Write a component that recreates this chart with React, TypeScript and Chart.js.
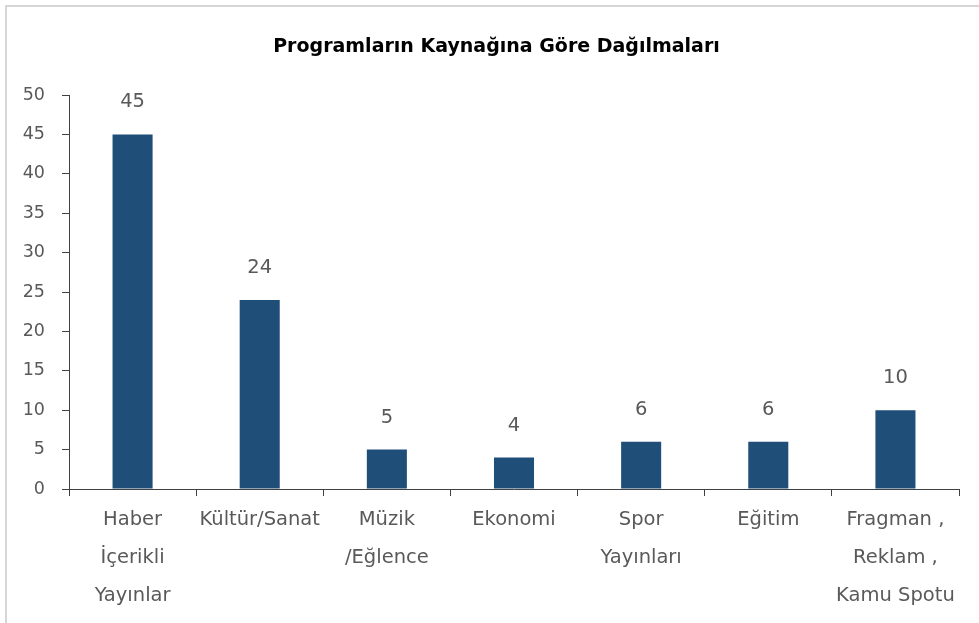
import React, { useEffect, useRef } from "react";
import { Chart, registerables } from "chart.js";

Chart.register(...registerables);

const chartTitle = "Programların Kaynağına Göre Dağılmaları";
const categories: string[][] = [
  ["Haber", "İçerikli", "Yayınlar"],
  ["Kültür/Sanat"],
  ["Müzik", "/Eğlence"],
  ["Ekonomi"],
  ["Spor", "Yayınları"],
  ["Eğitim"],
  ["Fragman ,", "Reklam ,", "Kamu Spotu"],
];
const values = [45, 24, 5, 4, 6, 6, 10];
const yMin = 0;
const yMax = 50;
const yStep = 5;

const FONT = "'DejaVu Sans', Verdana, sans-serif";
const TEXT_GRAY = "#595959";
const AXIS = "#404040";
const BAR = "#1F4E79";

const valueLabels = {
  id: "valueLabels",
  afterLayout(chart: any) {
    // let the y tick labels use the space left of the narrow scale box
    chart.scales.y.left = 0;
  },
  afterDatasetsDraw(chart: any) {
    const ctx = chart.ctx;
    const meta = chart.getDatasetMeta(0);
    ctx.save();
    ctx.font = `19.5px ${FONT}`;
    ctx.fillStyle = TEXT_GRAY;
    ctx.textAlign = "center";
    ctx.textBaseline = "middle";
    meta.data.forEach((bar: any, i: number) => {
      ctx.fillText(String(values[i]), bar.x, bar.y - 32);
    });
    ctx.restore();
  },
};

const X_FONT = 19.5;
const TITLE_FONT = 19;

export default function App() {
  const ref = useRef<HTMLCanvasElement | null>(null);
  useEffect(() => {
    if (!ref.current) return;
    const chart = new Chart(ref.current, {
      type: "bar",
      data: {
        labels: categories,
        datasets: [
          {
            data: values,
            backgroundColor: BAR,
            borderWidth: 0,
            barPercentage: 0.315,
            categoryPercentage: 1,
          },
        ],
      },
      options: {
        responsive: false,
        animation: false,
        layout: { padding: { left: 27, right: 20, top: 0, bottom: 3 } },
        plugins: {
          legend: { display: false },
          tooltip: { enabled: false },
          title: {
            display: true,
            text: chartTitle,
            color: "#000",
            font: { family: FONT, size: TITLE_FONT, weight: "bold" },
            padding: { top: 40 - (TITLE_FONT * 1.2) / 2, bottom: 88 - (40 + (TITLE_FONT * 1.2) / 2) },
          },
        },
        scales: {
          x: {
            grid: {
              display: true,
              drawOnChartArea: false,
              drawTicks: true,
              tickLength: 7,
              color: AXIS,
              offset: true,
            },
            border: { display: true, color: AXIS, width: 1 },
            ticks: {
              color: TEXT_GRAY,
              font: { family: FONT, size: X_FONT, lineHeight: 38 / X_FONT },
              padding: 5,
              autoSkip: false,
              maxRotation: 0,
              minRotation: 0,
            },
          },
          y: {
            min: yMin,
            max: yMax,
            afterFit: (scale: any) => {
              scale.width = 35;
            },
            grid: {
              display: true,
              drawOnChartArea: false,
              drawTicks: true,
              tickLength: 7,
              color: AXIS,
            },
            border: { display: true, color: AXIS, width: 1 },
            ticks: {
              stepSize: yStep,
              color: TEXT_GRAY,
              font: { family: FONT, size: 17.5 },
              padding: 17,
            },
          },
        },
      },
      plugins: [valueLabels],
    });
    return () => chart.destroy();
  }, []);

  return (
    <>
      <div
        style={{
          position: "fixed",
          left: 5,
          top: 5,
          right: 0,
          bottom: 0,
          borderLeft: "2px solid #d6d6d6",
          borderTop: "2px solid #d6d6d6",
          background: "#fff",
        }}
      />
      <canvas
        ref={ref}
        width={972}
        height={616}
        style={{ position: "fixed", left: 7, top: 7, display: "block" }}
      />
    </>
  );
}
